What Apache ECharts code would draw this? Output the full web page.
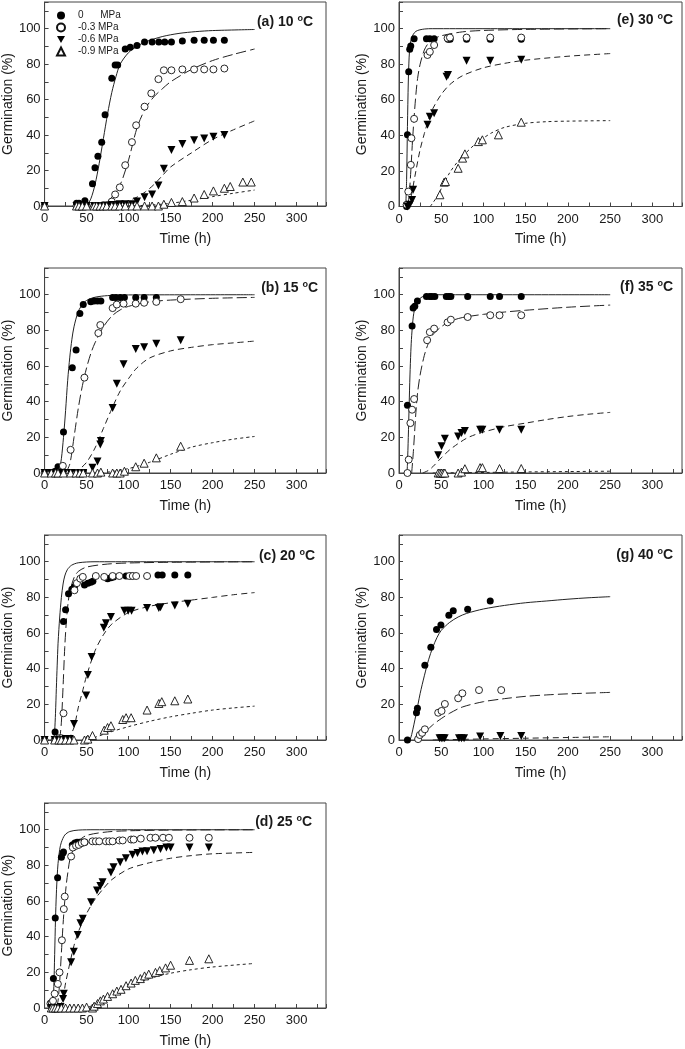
<!DOCTYPE html>
<html>
<head>
<meta charset="utf-8">
<script src="https://cdn.jsdelivr.net/npm/echarts@6/dist/echarts.min.js"></script>
<style>
html,body{margin:0;padding:0;background:#fff;}
#chart{width:685px;height:1049px;}
</style>
</head>
<body>
<div id="chart"></div>
<script>
// ---------- DATA (time h, germination %) ----------
const legendNames = ['0      MPa', '-0.3 MPa', '-0.6 MPa', '-0.9 MPa'];
const panelLabels = ['(a) 10', '(b) 15', '(c) 20', '(d) 25', '(e) 30', '(f) 35', '(g) 40'];
const xTickLabels = [0, 50, 100, 150, 200, 250, 300];
const yTickLabels = [0, 20, 40, 60, 80, 100];

// (a) 10 °C
const pts_a_0 = [[0,0],[38,1.5],[41,1.5],[48,3],[57,12.5],[60,21.5],[63.5,28],[68,36],[72,51.5],[80,72],[84,79.5],[87,79.5],[96,88.5],[102,89.5],[110,90.5],[119,92.5],[128,92.5],[136,92.5],[143,92.5],[151,92.5],[164,93],[178,93.5],[190,93.5],[201,93.5],[214,93.5]];
const pts_a_3 = [[0,0],[38,0],[41,0],[45,0],[50,0],[59,0],[62,0],[66,0],[70,0.5],[74,0.5],[80,2.5],[84,6.5],[89.5,10.5],[96,23],[104,36],[109,45.5],[119,56],[127,63.5],[135.5,71.5],[142,76.5],[151,76.5],[164,77],[178,77],[190,77],[201,77],[214,77.5]];
const pts_a_6 = [[0,0],[38,0],[41,0],[45,0],[50,0],[59,0],[62,0],[66,0],[70,0],[74,0],[80,0.5],[84,0.5],[89.5,1],[96,1],[104,1],[110,2.5],[119,5],[128,6.5],[135.5,11.5],[142,21],[151,31.5],[164,35],[178,37],[190,38],[201,39],[214,40]];
const pts_a_9 = [[0,0],[38,0],[41,0],[45,0],[50,0],[59,0],[62,0],[66,0],[70,0],[74,0],[80,0],[84,0],[89.5,0],[96,0],[104,0],[110,0],[119,0],[128,0],[135.5,0],[142,1],[151,2],[164,2.5],[178,4.5],[190,6.5],[201,8.5],[214,10],[221,11],[236,13.5],[246,13.5]];
const fit_a_0 = [[50,0],[55,4],[60,12],[65,24],[70,38],[75,52],[80,64],[85,73],[90,80],[100,86.5],[110,90],[120,92.5],[140,95.5],[160,97.3],[180,98.3],[200,98.9],[250,99.5]];
const fit_a_3 = [[60,0],[70,1],[80,5],[90,12],[100,26],[110,44],[120,55],[130,61.5],[140,66],[150,70],[175,77],[200,82],[225,85.5],[250,88.5]];
const fit_a_6 = [[70,0],[90,1.5],[100,3],[110,5],[120,8],[130,12],[140,17],[150,22],[175,30],[200,37.5],[225,43],[250,48]];
const fit_a_9 = [[100,0],[125,0.5],[150,1.5],[175,3.3],[200,5.3],[225,7.2],[250,9]];

// (b) 15 °C
const pts_b_0 = [[0,0],[8,0],[11,0.5],[13,1],[16,3.5],[22.5,23],[33,59],[37.5,69],[42,89.5],[46,94.5],[55,96],[59,96.5],[63,96.5],[67,96.5],[81,98.5],[85,98.5],[90,98.5],[95,98.5],[108.5,98.5],[118.5,98.5],[133,98.5]];
const pts_b_3 = [[0,0],[8,0],[11,0],[13,0],[16,0],[19,0.5],[21.7,4],[31,13],[47.4,53.5],[64,78.5],[66.3,83],[81,92.5],[86,94.5],[94,95],[108.5,95],[118.5,95.5],[133,96],[162,97.5]];
const pts_b_6 = [[0,0],[8,0],[13,0],[16,0],[19,0],[22.5,0],[31,0],[37.5,0],[42,0],[46,0],[57,3],[63,6.5],[66.3,16],[67,18],[81,36.5],[86,50],[94,61],[108.5,69.5],[118.5,70.5],[133,72.5],[162,74.5]];
const pts_b_9 = [[0,0],[8,0],[13,0],[16,0],[22.5,0],[31,0],[37.5,0],[42,0],[46,0],[57,0],[63,0],[67,0.5],[81,0],[86,0],[90,0],[95,1],[108.5,3.5],[118.5,5.5],[133,8.5],[162,15]];
const fit_b_0 = [[15,0],[18,3],[20,8],[22.5,20],[25,35],[27.5,52],[30,65],[32.5,75],[35,82],[40,90.5],[45,94.5],[50,96.8],[60,98.6],[75,99.5],[100,99.9],[250,100]];
const fit_b_3 = [[25,0],[30,5],[35,20],[40,36],[45,49],[50,59],[55,67],[60,73],[70,82],[80,88],[90,91.5],[100,93.5],[125,96],[150,97],[200,98],[250,98.5]];
const fit_b_6 = [[35,0],[40,1.5],[50,6],[60,14],[70,25],[80,36],[90,46],[100,53],[110,59],[125,64.5],[150,68.5],[175,70.5],[200,72],[225,73],[250,74]];
const fit_b_9 = [[60,0],[75,0.5],[100,2.5],[125,6],[150,10.5],[175,14.5],[200,17],[225,19],[250,20.5]];

// (c) 20 °C
const pts_c_0 = [[0,0],[12.5,4.5],[22.5,66.5],[25,73],[28.5,82],[32.5,84.5],[35.5,86],[47.5,87],[51.5,88],[55,88.5],[57.5,89],[75,90.5],[79,91],[82,91.5],[97,92],[103,92],[135,92.5],[140,92.5],[155,92.5],[170.5,92.5]];
const pts_c_3 = [[0,0],[12,0],[17,1],[20,1],[22.5,15],[35.5,84],[38.5,88],[42.5,90.5],[45.5,91.5],[61,92],[71,91.5],[81,92],[89,92],[101,92],[105,92],[109,92],[122,92]];
const pts_c_6 = [[0,0],[12,0],[17,0],[20,0],[25,0.5],[30,0.5],[35,9],[49.5,25],[51.5,36.5],[56,46.5],[70.5,63],[73,65.5],[79,69],[95,72.5],[99.5,72.5],[103.5,72.5],[122,74],[136,74],[138,74.5],[155,75.5],[170.5,76.5]];
const pts_c_9 = [[0,0],[12,0],[17,0],[20,0],[25,0],[30,0],[35,0],[47.5,0],[51.5,0.5],[57,2.5],[71,5.5],[75,7],[79,8],[93,11.5],[97,12.5],[103,12.5],[122,16.8],[136,20.5],[139.5,21.5],[155,22],[170.5,23]];
const fit_c_0 = [[11,0],[12,5],[13,15],[14,29],[15,42],[16,54],[17,62],[18,69],[20,80],[22,87.5],[24,92],[27,95.5],[32,98],[40,99.4],[60,100],[250,100]];
const fit_c_3 = [[18,0],[20,10],[22,30],[24,52],[26,67],[28,77],[30,83],[35,91],[40,94.5],[50,97],[75,98.7],[100,99.3],[150,99.7],[250,100]];
const fit_c_6 = [[28,0],[35,7],[40,18],[45,27],[50,36],[60,50],[70,59],[80,65],[100,71.5],[125,75],[150,77],[175,78.5],[200,80],[225,81.5],[250,82.7]];
const fit_c_9 = [[45,0],[60,1.5],[75,4],[100,7.5],[125,10.5],[150,13],[175,15],[200,16.8],[225,18],[250,19]];

// (d) 25 °C
const pts_d_0 = [[7,2],[8.5,2.5],[10.5,16.5],[12.7,50.5],[15.5,73],[20,84.5],[21.7,86.8],[22.5,87.5],[33,91.5],[36,92.5],[38.7,93],[41.5,93],[43.5,93],[45.5,93],[48,93]];
const pts_d_3 = [[7,2.5],[8.5,3],[10,4],[12,8],[15.8,13.5],[17.8,20],[20.6,38],[22.9,55.5],[24,62.5],[31.6,85],[33.6,90],[37.5,91],[40.7,91.5],[44.3,92.5],[47.4,93],[57,93.5],[61,93.5],[65,93.5],[73,93.5],[77,93.5],[81,93.5],[89,94],[93,94],[103,94.5],[106,94.5],[114.5,95],[126,95.5],[132,95.5],[141,95.5],[148,95.5],[172.5,95.5],[195.5,95.5]];
const pts_d_6 = [[8,0],[10,0],[13,0],[16,0],[19,0.5],[22,5],[22.9,8],[31.6,25.7],[34.8,31.5],[39.5,41],[42.7,47.5],[45.4,50],[55.3,59.3],[62.4,65.9],[66.4,68.5],[69,70.5],[79,76],[82,79],[90,81.7],[96.8,84],[104.7,86],[110.6,87],[116.5,87.8],[122,88],[130,88.5],[138,89.2],[145,90],[150,90],[172.5,90],[195.5,90]];
const pts_d_9 = [[8,0],[10,0],[13,0],[16,0],[20,0],[25,0],[30,0],[35,0],[40,0],[45,0],[50,0.5],[57,0],[59,1],[63,2.5],[66.4,4],[70,5],[75,6.5],[81,8],[86,9.5],[91,10.5],[97,12.5],[103,14],[108,15.5],[114,16.5],[119,18],[124,19],[132,20],[137,21],[144,22.5],[150,24],[172.5,26.7],[195.5,27.6]];
const fit_d_0 = [[9.5,0],[10,2],[11,12],[12,30],[13,50],[14,64],[15,74],[16,81],[18,89],[20,93],[24,97],[30,99],[40,99.8],[60,100],[250,100]];
const fit_d_3 = [[14,0],[16,4],[18,15],[20,31],[22,47],[24,60],[26,70],[28,77],[30,83],[35,90],[40,93.5],[50,96.8],[75,98.8],[100,99.4],[150,99.8],[250,100]];
const fit_d_6 = [[18,0],[22,6],[25,14],[30,25],[35,35],[40,42.5],[50,53],[60,61],[70,67],[80,72],[100,78],[125,81.5],[150,84],[175,85.5],[200,86.5],[250,87.3]];
const fit_d_9 = [[45,0],[55,1],[65,3],[75,5.5],[90,9.5],[100,12],[125,16.5],[150,19.5],[175,21.5],[200,23],[250,25]];

// (e) 30 °C
const pts_e_0 = [[9,0],[10,40.3],[11.5,75.8],[12.7,88.4],[13.9,90.3],[17.9,94.4],[32.5,94.4],[36.5,94.4],[41.6,94.4],[58,94],[60.5,94],[80,94],[108,94],[144.7,94]];
const pts_e_3 = [[9,1],[11,8.4],[14,23.4],[14.7,38.4],[17.9,49.3],[33.7,85.2],[36.5,87],[41.6,90.8],[57.5,94.6],[60.3,95],[80,95],[108,95],[144.7,95]];
const pts_e_6 = [[10,0],[12.7,1],[15.5,3.7],[16.7,9.4],[33.7,46],[36.5,50.5],[41.6,52.5],[56.3,73],[58,74],[80,82],[108,82],[144.7,82.5]];
const pts_e_9 = [[48.4,6.6],[53.5,13.7],[55,14],[70,21.5],[75.3,27.2],[78,29.6],[94,36.5],[98.7,37.5],[117.7,40.3],[144.7,47.4]];
const fit_e_0 = [[8,0],[9,15],[10,45],[11,70],[12,84],[13,90],[15,95],[20,98.5],[30,99.8],[40,100],[250,100]];
const fit_e_3 = [[10,0],[12,6],[14,20],[16,37],[18,51],[20,63],[22,72],[25,80],[30,88],[35,92],[40,94],[50,96],[75,98.2],[100,99],[150,99.6],[250,100]];
const fit_e_6 = [[12,0],[15,7],[20,20],[25,32],[30,41],[35,49],[40,55],[50,63],[60,68.5],[75,73.5],[100,78],[125,80.5],[150,82.3],[200,84.5],[250,86]];
const fit_e_9 = [[37,0],[40,2],[45,5.5],[50,10],[60,19],[70,25.5],[80,30.5],[90,35],[100,38.5],[110,41.5],[125,44.5],[150,46.8],[175,47.7],[200,48],[250,48.3]];

// (f) 35 °C
const pts_f_0 = [[10,38],[15.5,82.5],[16.7,92.5],[18.7,93.5],[21.8,96.5],[32.5,99],[36.5,99],[39,99],[42.4,99],[56,99],[59,99],[61.4,99],[81.3,99],[108,99],[119,99],[144.7,99]];
const pts_f_3 = [[10,0],[11.5,7.5],[13.5,28],[15.5,35.5],[17.9,41.5],[33.3,74.5],[36.5,79],[41.6,81],[57.5,84.5],[61.4,86],[81.3,87.5],[108,88.5],[119,88.5],[144.7,88.5]];
const pts_f_6 = [[46.4,10],[50.4,15],[54.3,19.2],[70,20.5],[74,22.5],[78,23.5],[96,24.3],[98.7,24.3],[119,24.3],[144.7,24.3]];
const pts_f_9 = [[46.4,0],[48.5,0],[50.4,0],[52.5,0],[54.3,0],[70,0],[74,0.5],[78,2.4],[96,3],[98.7,3],[119,2.5],[144.7,2.5]];
const fit_f_0 = [[9.5,0],[10,5],[11,20],[12,38],[13,55],[14,68],[15,77],[17,88],[20,94.5],[25,98],[30,99.3],[40,100],[250,100]];
const fit_f_3 = [[15,0],[17,12],[20,34],[22,45],[25,55],[30,66],[35,73],[40,77.5],[50,82],[60,85],[75,87.2],[100,89],[125,90.3],[150,91.3],[200,93],[250,94.2]];
const fit_f_6 = [[28,0],[35,1.5],[40,3.5],[50,8.5],[60,13],[70,16.5],[80,19.5],[90,21.5],[100,23],[125,26],[150,28],[175,30],[200,31.7],[225,33],[250,34]];
const fit_f_9 = [[40,0],[100,0.3],[150,0.6],[200,0.8],[250,1]];

// (g) 40 °C
const pts_g_0 = [[10,0],[20.7,15.3],[21.8,17.8],[30.6,42],[37.7,52],[44.4,62],[49.6,64.5],[59,70],[64.2,72.5],[81.3,73.3],[108,78]];
const pts_g_3 = [[22.6,0.5],[24.6,2.8],[27.4,4],[30.6,6],[46.4,15.3],[50.4,16.3],[54.3,20.2],[70,23.4],[75,26.2],[94.7,28],[121,28]];
const pts_g_6 = [[48,1],[50,1],[52,1],[54,1],[71,1],[74,1],[77,1],[96,1.9],[120,2.2],[144.7,2.2]];
const pts_g_9 = [];
const fit_g_0 = [[13,0],[15,3],[20,14],[25,26],[30,36],[35,45],[40,52],[45,57.5],[50,61.5],[60,66],[70,69],[80,71],[100,73.5],[125,75.5],[150,77],[175,78],[200,79],[225,79.8],[250,80.4]];
const fit_g_3 = [[20,0],[25,1.5],[30,4],[40,8.5],[50,12],[60,15],[75,18.5],[100,21.5],[125,23.2],[150,24.5],[175,25.3],[200,25.9],[250,26.7]];
const fit_g_6 = [[40,0],[100,0.6],[150,1],[200,1.4],[250,1.8]];
const fit_g_9 = [];

// ---------- LAYOUT ----------
const panels = [
  {pts:[pts_a_0,pts_a_3,pts_a_6,pts_a_9], fits:[fit_a_0,fit_a_3,fit_a_6,fit_a_9]},
  {pts:[pts_b_0,pts_b_3,pts_b_6,pts_b_9], fits:[fit_b_0,fit_b_3,fit_b_6,fit_b_9]},
  {pts:[pts_c_0,pts_c_3,pts_c_6,pts_c_9], fits:[fit_c_0,fit_c_3,fit_c_6,fit_c_9]},
  {pts:[pts_d_0,pts_d_3,pts_d_6,pts_d_9], fits:[fit_d_0,fit_d_3,fit_d_6,fit_d_9]},
  {pts:[pts_e_0,pts_e_3,pts_e_6,pts_e_9], fits:[fit_e_0,fit_e_3,fit_e_6,fit_e_9]},
  {pts:[pts_f_0,pts_f_3,pts_f_6,pts_f_9], fits:[fit_f_0,fit_f_3,fit_f_6,fit_f_9]},
  {pts:[pts_g_0,pts_g_3,pts_g_6,pts_g_9], fits:[fit_g_0,fit_g_3,fit_g_6,fit_g_9]}
];
const gridBoxes = [
  {left:43, top:2, height:204},
  {left:43, top:268, height:205},
  {left:43, top:535, height:205},
  {left:43, top:803, height:205},
  {left:399, top:2, height:204.5},
  {left:399, top:268, height:205},
  {left:399, top:535, height:205}
];
const titlePos = [
  {right:372, top:14}, {right:367, top:280}, {right:370, top:548}, {right:373, top:814},
  {right:12, top:12}, {right:12, top:279}, {right:12, top:547}
];

const FONT = 'Arial, "Liberation Sans", Helvetica, sans-serif';
const INK = '#1a1a1a';
const symbols = ['circle', 'circle', 'path://M0,0L10,0L5,9Z', 'triangle'];
const fills = ['#000', '#fff', '#000', '#fff'];
const dashes = ['solid', [10,4], [6,4], [3,3]];

const grids = [], xAxes = [], yAxes = [], series = [], titles = [];
panels.forEach((p, i) => {
  const g = gridBoxes[i];
  grids.push({left:g.left, top:g.top, width:283, height:g.height, show:true,
    borderColor:'#444', borderWidth:1, backgroundColor:'transparent', containLabel:false});
  xAxes.push({gridIndex:i, type:'value', min:0, max:335, interval:25,
    axisLine:{show:true, onZero:false, lineStyle:{color:'#444', width:1}},
    axisTick:{show:true, inside:true, length:4, lineStyle:{color:'#444'}},
    axisLabel:{fontFamily:FONT, fontSize:13, color:INK, margin:6,
      formatter: v => (xTickLabels.indexOf(v) >= 0 ? String(v) : '')},
    splitLine:{show:false},
    name:'Time (h)', nameLocation:'middle', nameGap:26,
    nameTextStyle:{fontFamily:FONT, fontSize:14, color:INK}});
  yAxes.push({gridIndex:i, type:'value', min:0, max:115, interval:10,
    axisLine:{show:true, onZero:false, lineStyle:{color:'#444', width:1}},
    axisTick:{show:true, inside:true, length:4, lineStyle:{color:'#444'}},
    axisLabel:{fontFamily:FONT, fontSize:13, color:INK, margin:4,
      formatter: v => (yTickLabels.indexOf(v) >= 0 ? String(v) : '')},
    splitLine:{show:false},
    name:'Germination (%)', nameLocation:'middle', nameGap:26,
    nameTextStyle:{fontFamily:FONT, fontSize:14, color:INK}});
  titles.push({text: panelLabels[i] + ' {s|o}C', right:titlePos[i].right, top:titlePos[i].top, padding:0,
    textStyle:{fontFamily:FONT, fontSize:14, fontWeight:'bold', color:INK, lineHeight:16,
      rich:{s:{fontFamily:FONT, fontSize:9, fontWeight:'bold', color:INK, lineHeight:9, verticalAlign:'top'}}}});
  p.fits.forEach((d, k) => {
    if (!d.length) return;
    series.push({type:'line', name:'fit' + i + '_' + k, xAxisIndex:i, yAxisIndex:i, data:d,
      showSymbol:false, symbol:'none', smooth:0.3, silent:true, z:2,
      lineStyle:{color:'#222', width:1, type:dashes[k]}});
  });
  p.pts.forEach((d, k) => {
    if (!d.length) return;
    const empty = (k === 1 || k === 3);
    series.push({type:'scatter', name:legendNames[k], xAxisIndex:i, yAxisIndex:i, data:d,
      symbol:symbols[k], symbolSize:(k >= 2 ? 8 : 7), z:3, clip:false,
      itemStyle:{color:fills[k], borderColor:'#111', borderWidth: empty ? 0.9 : 0, opacity:1}});
  });
});

const chart = echarts.init(document.getElementById('chart'), null, {renderer:'canvas'});
chart.setOption({
  animation:false,
  backgroundColor:'#fff',
  title:titles,
  legend:{data:legendNames, orient:'vertical', left:56, top:10, itemWidth:8, itemHeight:8, itemGap:1,
    selectedMode:false, padding:0,
    textStyle:{fontFamily:FONT, fontSize:10, color:INK, lineHeight:11, padding:[0,0,0,8]}},
  grid:grids, xAxis:xAxes, yAxis:yAxes, series:series
});
</script>
</body>
</html>
